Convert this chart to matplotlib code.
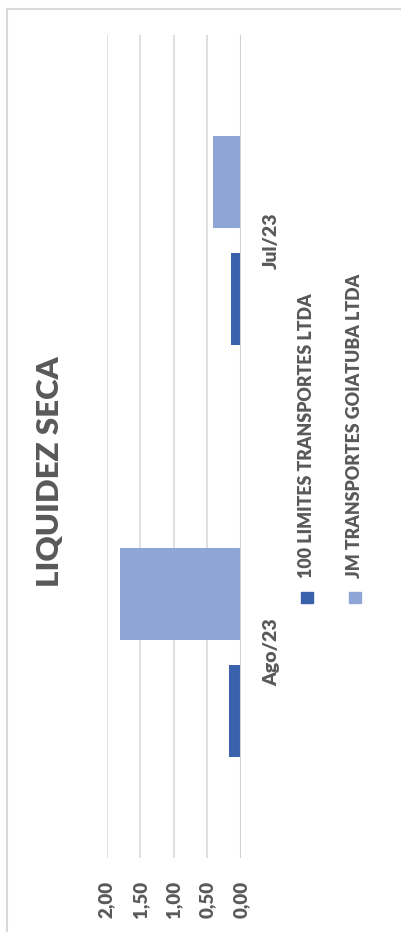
import matplotlib
matplotlib.use("Agg")
import matplotlib.pyplot as plt
from matplotlib.patches import Rectangle
from matplotlib.lines import Line2D

# datos
categorias = ["Ago/23", "Jul/23"]
serie_100_limites = [0.18, 0.15]
serie_jm = [1.80, 0.41]
nombres = ["100 LIMITES TRANSPORTES LTDA", "JM TRANSPORTES GOIATUBA LTDA"]
ticks_valor = [0.0, 0.5, 1.0, 1.5, 2.0]
ticks_texto = ["0,00", "0,50", "1,00", "1,50", "2,00"]

C_OSCURO = "#3A62AC"
C_CLARO = "#8FA5D5"
C_TEXTO = "#595959"
FUENTE = ["Lato", "DejaVu Sans"]
PESO = "heavy"

plt.rcParams["font.family"] = FUENTE

W, H = 401, 932
fig = plt.figure(figsize=(W / 100, H / 100), dpi=100)

# el grafico de Excel esta girado 90 grados
ax = fig.add_axes([106.5 / W, 1 - 858 / H, 134.5 / W, 823 / H])

pos = list(range(len(categorias)))
alto = 0.224
desp = 0.142
ax.barh([p - desp for p in pos], serie_100_limites, height=alto, color=C_OSCURO, zorder=3)
ax.barh([p + desp for p in pos], serie_jm, height=alto, color=C_CLARO, zorder=3)

ax.set_xlim(2.0, 0.0)
ax.set_ylim(-0.5, len(categorias) - 0.5)

for v in ticks_valor:
    if v == 0:
        ax.axvline(v, color="#D0D0D0", lw=2.2, zorder=4)
    else:
        ax.axvline(v, color="#D9D9D9", lw=1.2, zorder=1)

ax.set_xticks(ticks_valor)
ax.set_xticklabels(ticks_texto, rotation=90, fontsize=13.5, fontweight=PESO, color=C_TEXTO)
ax.tick_params(axis="x", length=0, pad=16.5)

ax.yaxis.tick_right()
ax.set_yticks(pos)
ax.set_yticklabels(categorias, rotation=90, fontsize=14, fontweight=PESO, color=C_TEXTO, va="center")
ax.tick_params(axis="y", length=0, pad=16)

for s in ax.spines.values():
    s.set_visible(False)

# titulo
fig.text(50 / W, 1 - 472 / H, "LIQUIDEZ SECA", rotation=90, fontsize=22.5, fontweight=PESO,
         color=C_TEXTO, ha="center", va="center")

# leyenda
for i, (nombre, col) in enumerate(zip(nombres, [C_OSCURO, C_CLARO])):
    xc = 307 + 48 * i
    fig.add_artist(Rectangle(((xc - 6) / W, 1 - 603 / H), 12 / W, 11 / H,
                             transform=fig.transFigure, color=col))
    fig.text(xc / W, 1 - 578 / H, nombre, rotation=90, fontsize=12.8, fontweight=PESO,
             color=C_TEXTO, ha="center", va="bottom")

# marco
fig.add_artist(Line2D([7 / W, 7 / W], [0, 1 - 9 / H], transform=fig.transFigure, color="#D9D9D9", lw=1.5))
fig.add_artist(Line2D([7 / W, 1], [1 - 9 / H, 1 - 9 / H], transform=fig.transFigure, color="#D9D9D9", lw=1.5))

fig.savefig("out.png", dpi=100)
